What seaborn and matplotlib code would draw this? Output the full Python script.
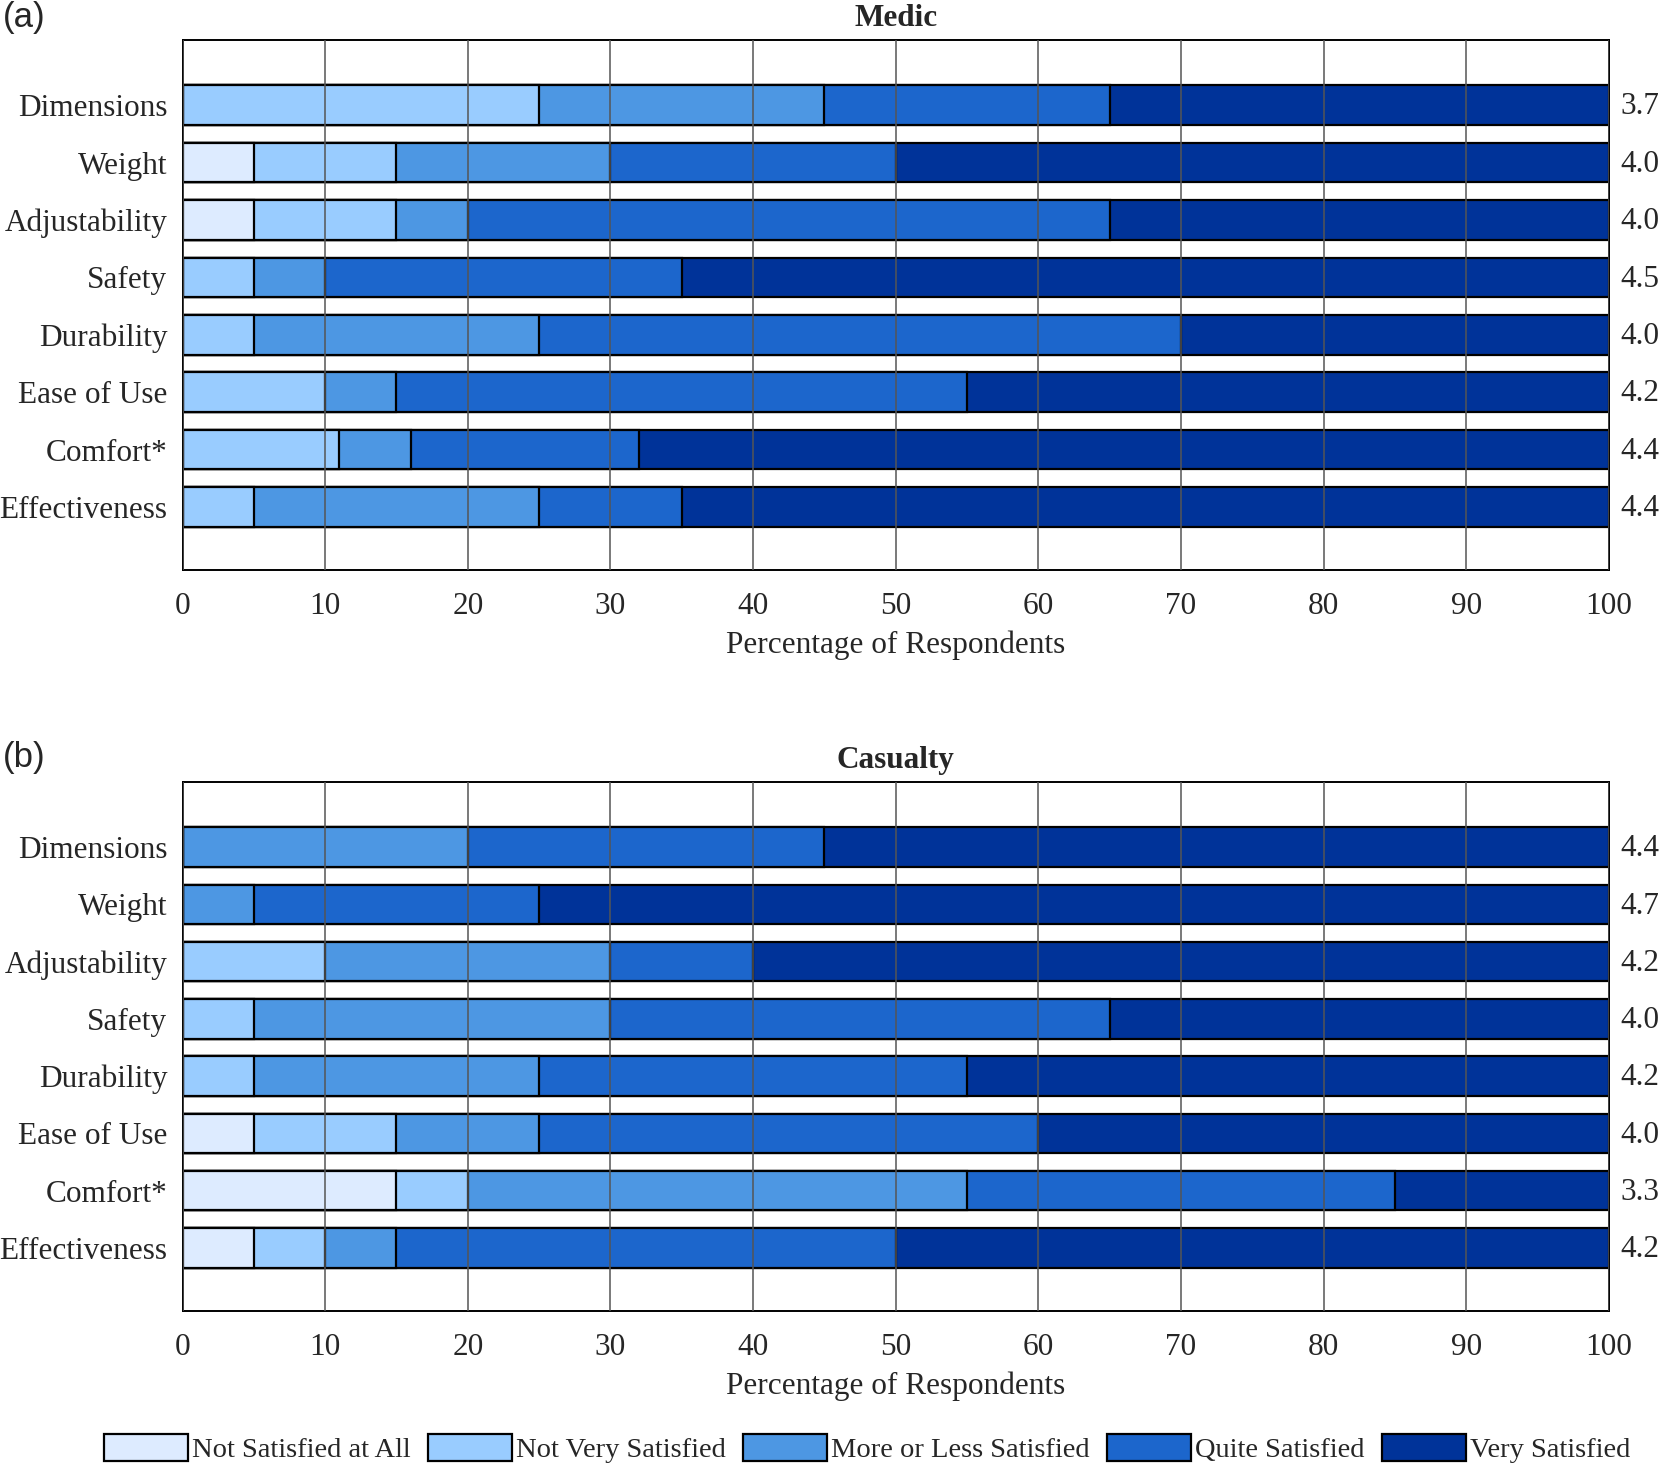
"""Stacked satisfaction bars for Medic and Casualty respondents."""

import numpy as np
import pandas as pd
import matplotlib
matplotlib.use("Agg")
import matplotlib.pyplot as plt
from matplotlib.patches import Patch
from matplotlib.transforms import blended_transform_factory
import seaborn as sns

ATTRIBUTES = ["Dimensions", "Weight", "Adjustability", "Safety",
              "Durability", "Ease of Use", "Comfort*", "Effectiveness"]
LEVELS = ["Not Satisfied at All", "Not Very Satisfied", "More or Less Satisfied",
          "Quite Satisfied", "Very Satisfied"]
COLORS = ["#DDEBFF", "#99CCFF", "#4D97E3", "#1C66CC", "#003399"]

# percentages per level, one row per attribute (in ATTRIBUTES order)
MEDIC = [
    [0, 25, 20, 20, 35],
    [5, 10, 15, 20, 50],
    [5, 10, 5, 45, 35],
    [0, 5, 5, 25, 65],
    [0, 5, 20, 45, 30],
    [0, 10, 5, 40, 45],
    [0, 11, 5, 16, 68],
    [0, 5, 20, 10, 65],
]
CASUALTY = [
    [0, 0, 20, 25, 55],
    [0, 0, 5, 20, 75],
    [0, 10, 20, 10, 60],
    [0, 5, 25, 35, 35],
    [0, 5, 20, 30, 45],
    [5, 10, 10, 35, 40],
    [15, 5, 35, 30, 15],
    [5, 5, 5, 35, 50],
]
MEDIC_MEAN = ["3.7", "4.0", "4.0", "4.5", "4.0", "4.2", "4.4", "4.4"]
CASUALTY_MEAN = ["4.4", "4.7", "4.2", "4.0", "4.2", "4.0", "3.3", "4.2"]

sns.set_style("white")
plt.rcParams["font.family"] = ["Liberation Serif", "DejaVu Serif"]
FS = 22.5

fig = plt.figure(figsize=(16.64, 14.68), dpi=100)
ax_a = fig.add_axes([0.1097, 0.6117, 0.8571, 0.3608])
ax_b = fig.add_axes([0.1097, 0.1070, 0.8571, 0.3601])


def draw_panel(ax, rows, means, title):
    df = pd.DataFrame(rows, columns=LEVELS)
    df["Attribute"] = ATTRIBUTES
    cum = df[LEVELS].cumsum(axis=1)
    # draw cumulative bars from the outermost level inward
    for i in range(len(LEVELS) - 1, -1, -1):
        sub = pd.DataFrame({"Attribute": ATTRIBUTES, "cum": cum[LEVELS[i]]})
        sns.barplot(data=sub, x="cum", y="Attribute", order=ATTRIBUTES,
                    orient="h", color=COLORS[i], saturation=1, width=0.69,
                    edgecolor="black", linewidth=1.6, ax=ax, errorbar=None)
    ax.set_xlim(0, 100)
    ax.set_ylim(len(ATTRIBUTES) - 1 + 1.1, -1.13)
    ax.set_xticks(np.arange(0, 101, 10))
    ax.set_axisbelow(False)
    ax.grid(axis="x", color="#555555", linewidth=1.1)
    ax.grid(axis="y", visible=False)
    for s in ax.spines.values():
        s.set_visible(True)
        s.set_color("black")
        s.set_linewidth(1.4)
    ax.tick_params(axis="x", length=0, pad=16, labelsize=FS)
    ax.tick_params(axis="y", length=0, pad=11, labelsize=FS)
    ax.set_ylabel("")
    ax.set_xlabel("Percentage of Respondents", fontsize=FS, labelpad=7)
    ax.set_title(title, fontsize=FS, fontweight="bold", pad=10)
    trans = blended_transform_factory(ax.transAxes, ax.transData)
    for j, m in enumerate(means):
        ax.text(1.008, j + 0.03, m, transform=trans, ha="left", va="center",
                fontsize=FS)


draw_panel(ax_a, MEDIC, MEDIC_MEAN, "Medic")
draw_panel(ax_b, CASUALTY, CASUALTY_MEAN, "Casualty")

fig.text(0.002, 0.999, "(a)", ha="left", va="top", fontsize=25,
         family=["Liberation Sans", "DejaVu Sans"])
fig.text(0.002, 0.495, "(b)", ha="left", va="top", fontsize=25,
         family=["Liberation Sans", "DejaVu Sans"])

handles = [Patch(facecolor=c, edgecolor="black", linewidth=1.6) for c in COLORS]
fig.legend(handles, LEVELS, loc="center", bbox_to_anchor=(0.521, 0.0135),
           ncol=5, frameon=False, fontsize=20.5, handlelength=2.95,
           handleheight=1.1, handletextpad=0.15, columnspacing=0.6)

fig.savefig("out.png", dpi=100)
plt.close(fig)
